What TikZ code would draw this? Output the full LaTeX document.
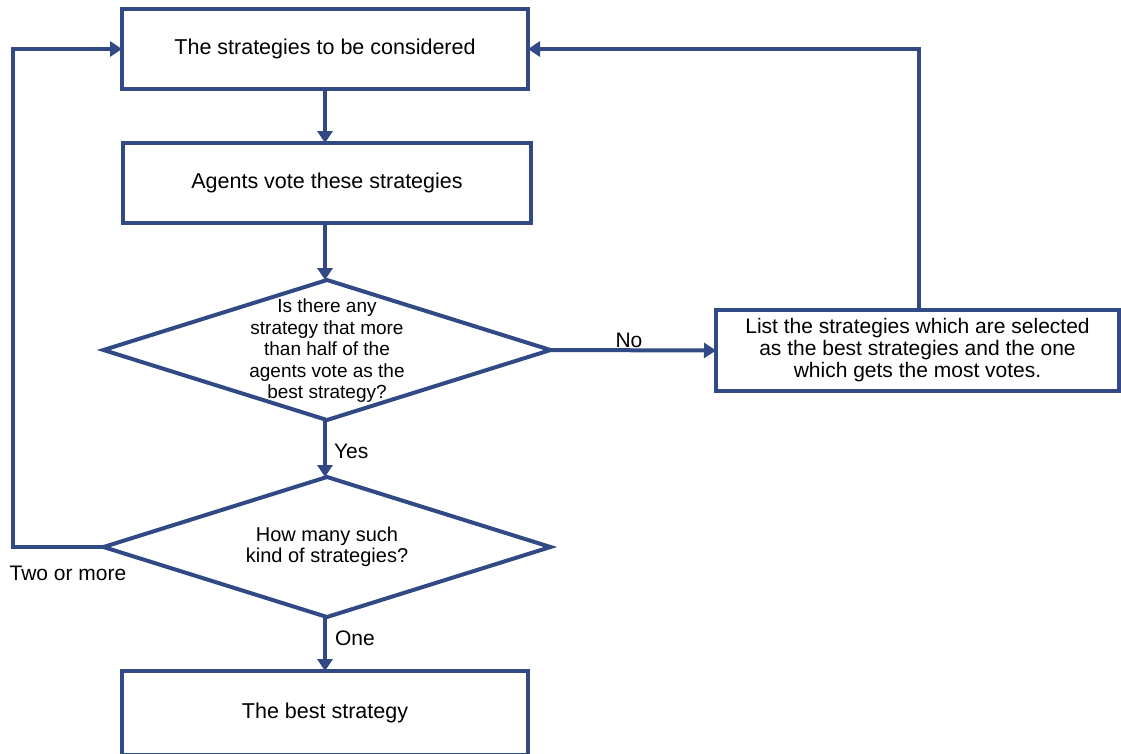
\documentclass[tikz,border=0pt]{standalone}
\usepackage{fontspec}
\setmainfont{Liberation Sans}
\usetikzlibrary{shapes.geometric,arrows.meta}
\definecolor{flowblue}{RGB}{49,74,134}
\begin{document}
\begin{tikzpicture}[x=1pt,y=-1pt,
  every node/.style={inner sep=0pt,outer sep=0pt},
  procbox/.style={draw=flowblue,line width=4pt,rectangle,align=center,font=\fontsize{21.5}{22}\selectfont},
  decide/.style={draw=flowblue,line width=4pt,diamond,minimum width=447pt,minimum height=140pt},
  dtext/.style={align=center,font=\fontsize{19}{21.5}\selectfont},
  flow/.style={draw=flowblue,line width=4pt,-{Triangle[length=12pt,width=15pt]}},
  plain/.style={draw=flowblue,line width=4pt},
  lbl/.style={font=\fontsize{21}{22}\selectfont}]
\useasboundingbox (0,0) rectangle (1121,753);
\clip (0,0) rectangle (1121,753);
\node[procbox,minimum width=406pt,minimum height=80pt] (box1) at (325,49) {The strategies to be considered};
\node[procbox,minimum width=408pt,minimum height=80pt] (box2) at (327,183) {Agents vote these strategies};
\node[decide] (d1) at (327,350) {};
\node[dtext] (d1t) at (327,351) {Is there any\\strategy that more\\than half of the\\agents vote as the\\best strategy?};
\node[procbox,minimum width=403pt,minimum height=81pt,font=\fontsize{21}{22}\selectfont] (box3) at (917.5,350.5) {List the strategies which are selected\\as the best strategies and the one\\which gets the most votes.};
\node[decide] (d2) at (327,547) {};
\node[dtext,font=\fontsize{20}{21.5}\selectfont] (d2t) at (327,547) {How many such\\kind of strategies?};
\node[procbox,minimum width=406pt,minimum height=84pt] (box4) at (325,713) {The best strategy};
\coordinate (lft) at (13,547);
% connectors
\draw[flow] (box1.south -| 325,0) -- (325,143);
\draw[flow] (box2.south -| 325,0) -- (d1.north -| 325,0);
\draw[flow] (d1.east) -- (box3.west);
\draw[flow] (box3.north -| 919,0) |- (box1.east);
\draw[flow] (d1.south -| 325,0) -- (d2.north -| 325,0);
\draw[plain,line cap=rect] (d2.west) -- (lft);
\draw[flow] (lft) |- (box1.west);
\draw[flow] (d2.south -| 325,0) -- (325,671);
% labels
\node[lbl] (lno) at (629,340) {No};
\node[lbl,anchor=west] (lyes) at (334,451) {Yes};
\node[lbl,anchor=west] (lone) at (335,638) {One};
\node[lbl] (ltwo) at (68,573) {Two or more};
\end{tikzpicture}
\end{document}
